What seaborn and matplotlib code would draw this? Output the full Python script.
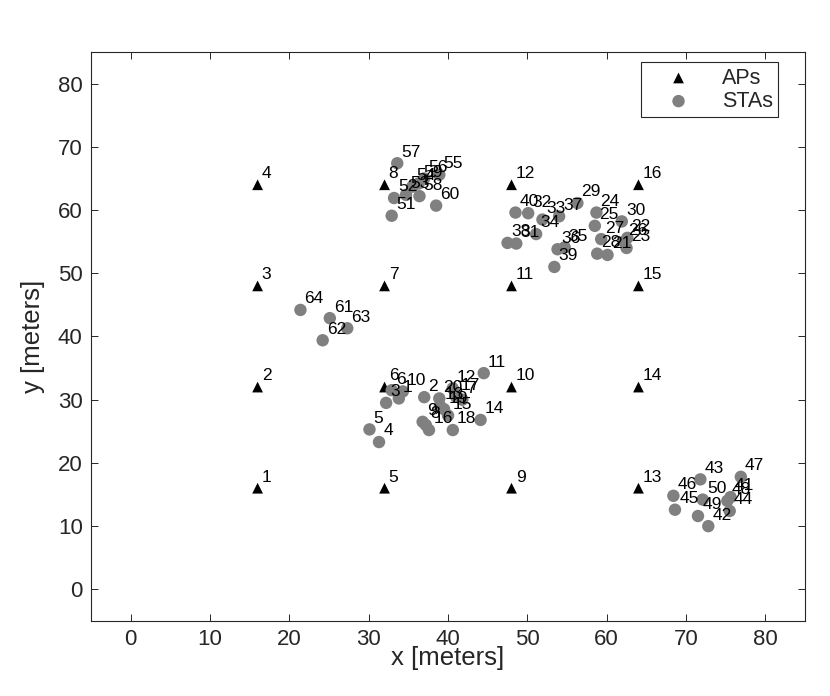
import matplotlib
matplotlib.use('Agg')
import matplotlib.pyplot as plt
import pandas as pd
import seaborn as sns

# Access points: 4x4 grid, numbered column by column
ap_x = [16, 16, 16, 16, 32, 32, 32, 32, 48, 48, 48, 48, 64, 64, 64, 64]
ap_y = [16, 32, 48, 64, 16, 32, 48, 64, 16, 32, 48, 64, 16, 32, 48, 64]

# Stations
sta_x = [33.8, 37.0, 32.2, 31.3, 30.1, 32.9, 41.8, 37.2, 36.8, 34.3,
         44.5, 40.6, 39.0, 44.1, 40.0, 37.6, 41.0, 40.6, 39.5, 38.9,
         60.1, 62.6, 62.5, 58.7, 58.5, 62.2, 59.3, 58.8, 56.3, 61.9,
         48.6, 50.1, 51.9, 51.1, 54.7, 53.8, 54.0, 47.5, 53.4, 48.5,
         75.6, 72.8, 71.8, 75.5, 68.6, 68.4, 76.9, 75.2, 71.5, 72.1,
         32.9, 33.2, 34.7, 35.5, 38.9, 37.0, 33.6, 36.4, 36.3, 38.5,
         25.1, 24.2, 27.3, 21.4]
sta_y = [30.2, 30.4, 29.5, 23.3, 25.3, 31.5, 30.0, 26.0, 26.5, 31.3,
         34.2, 31.8, 29.0, 26.8, 27.5, 25.2, 30.5, 25.2, 28.5, 30.2,
         52.9, 55.6, 54.0, 59.6, 57.5, 55.0, 55.4, 53.1, 61.1, 58.2,
         54.7, 59.5, 58.5, 56.2, 54.1, 53.8, 59.0, 54.8, 51.0, 59.6,
         14.6, 10.0, 17.4, 12.4, 12.6, 14.8, 17.8, 14.0, 11.6, 14.2,
         59.1, 61.9, 62.4, 63.7, 65.6, 65.0, 67.4, 62.2, 64.2, 60.7,
         42.9, 39.4, 41.3, 44.2]

sns.set_theme(style="white")
plt.rcParams['font.family'] = ['Liberation Sans', 'DejaVu Sans']

df_ap = pd.DataFrame({'x': ap_x, 'y': ap_y})
df_sta = pd.DataFrame({'x': sta_x, 'y': sta_y})

fig = plt.figure(figsize=(8.3, 6.96), dpi=100)
ax = fig.add_axes([0.1096, 0.1078, 0.8604, 0.8175])

sns.scatterplot(data=df_ap, x='x', y='y', marker='^', color='black', s=60,
                edgecolor='none', label='APs', ax=ax, zorder=3)
sns.scatterplot(data=df_sta, x='x', y='y', marker='o', color='#808080', s=80,
                edgecolor='none', label='STAs', ax=ax, zorder=3)

# numeros a cote des marqueurs
for i, (x, y) in enumerate(zip(ap_x, ap_y)):
    ax.annotate(str(i + 1), (x, y), xytext=(3, 8), textcoords='offset points',
                fontsize=12.5, ha='left', va='center', color='black', zorder=4)
for i, (x, y) in enumerate(zip(sta_x, sta_y)):
    ax.annotate(str(i + 1), (x, y), xytext=(3, 8), textcoords='offset points',
                fontsize=12.5, ha='left', va='center', color='black', zorder=4)

ax.set_xlim(-5, 85)
ax.set_ylim(-5, 85)
ax.set_xticks(range(0, 81, 10))
ax.set_yticks(range(0, 81, 10))
ax.set_xlabel('x [meters]', fontsize=18.5, color='#262626', labelpad=-3)
ax.set_ylabel('y [meters]', fontsize=18.5, color='#262626', labelpad=9)
ax.tick_params(direction='in', top=True, right=True, length=5, width=0.7,
               labelsize=16, colors='#262626', bottom=True, left=True, pad=6)
for sp in ax.spines.values():
    sp.set_color('#262626')
    sp.set_linewidth(0.8)

leg = ax.legend(loc='upper right', bbox_to_anchor=(0.962, 0.982), borderaxespad=0,
                frameon=True, fancybox=False, edgecolor='#262626', framealpha=1,
                fontsize=15.5, handletextpad=0.5, borderpad=0.25, labelspacing=0.1,
                handlelength=3.0)
leg.get_frame().set_linewidth(0.8)

fig.savefig('out.png', dpi=100)
